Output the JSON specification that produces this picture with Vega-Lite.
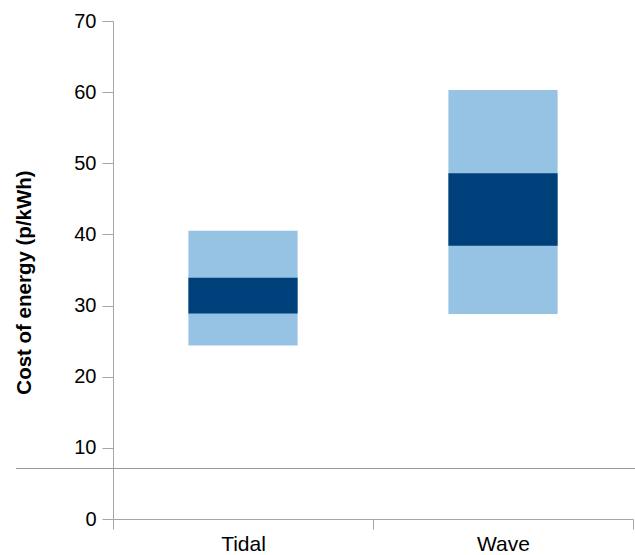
{
  "$schema": "https://vega.github.io/schema/vega-lite/v6.json",
  "width": 619,
  "height": 498,
  "autosize": "none",
  "padding": {"left": 16, "top": 21, "right": 0, "bottom": 36},
  "config": {"view": {"stroke": null}, "font": "Liberation Sans"},
  "layer": [
    {
      "data": {
        "values": [
          {"technology": "Tidal", "band": "Range", "low": 24.4, "high": 40.5},
          {"technology": "Wave", "band": "Range", "low": 28.8, "high": 60.3},
          {"technology": "Tidal", "band": "Central", "low": 28.9, "high": 33.9},
          {"technology": "Wave", "band": "Central", "low": 38.4, "high": 48.6}
        ]
      },
      "mark": {"type": "bar", "width": {"band": 0.42}},
      "encoding": {
        "x": {
          "field": "technology",
          "type": "nominal",
          "sort": ["Tidal", "Wave"],
          "scale": {"range": [97, 617], "paddingInner": 0, "paddingOuter": 0},
          "axis": {
            "title": null,
            "labelAngle": 0,
            "tickBand": "extent",
            "grid": false,
            "domainColor": "#a6a6a6",
            "tickColor": "#a6a6a6",
            "tickSize": 10,
            "labelFont": "Liberation Sans",
            "labelFontSize": 21,
            "labelColor": "#000000",
            "labelPadding": 4
          }
        },
        "y": {
          "field": "low",
          "type": "quantitative",
          "scale": {"domain": [0, 70], "nice": false},
          "axis": {
            "title": "Cost of energy (p/kWh)",
            "offset": -97,
            "values": [0, 10, 20, 30, 40, 50, 60, 70],
            "grid": false,
            "domainColor": "#a6a6a6",
            "tickColor": "#a6a6a6",
            "tickSize": 11,
            "labelFont": "Liberation Sans",
            "labelFontSize": 20,
            "labelColor": "#000000",
            "labelPadding": 6,
            "titleFont": "Liberation Sans",
            "titleFontSize": 20.5,
            "titleFontWeight": "bold",
            "titleColor": "#000000",
            "titlePadding": 39,
            "titleY": 261
          }
        },
        "y2": {"field": "high"},
        "color": {
          "field": "band",
          "type": "nominal",
          "scale": {"domain": ["Range", "Central"], "range": ["#96c3e3", "#00407a"]},
          "legend": null
        }
      }
    },
    {
      "data": {"values": [{"y": 7.1}]},
      "mark": {"type": "rule", "color": "#9a9a9a", "strokeWidth": 1},
      "encoding": {"y": {"field": "y", "type": "quantitative"}}
    }
  ]
}
